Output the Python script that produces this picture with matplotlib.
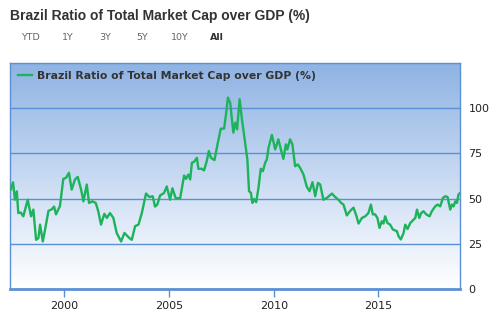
import numpy as np
import matplotlib
matplotlib.use("Agg")
import matplotlib.pyplot as plt
from matplotlib.colors import LinearSegmentedColormap

# decimal year of each reading, and the ratio (%)
years = [1997.44, 1997.55, 1997.64, 1997.73, 1997.80, 1997.92, 1998.04, 1998.25,
         1998.41, 1998.52, 1998.65, 1998.76, 1998.84, 1998.97, 1999.11, 1999.24,
         1999.40, 1999.51, 1999.60, 1999.79, 1999.95, 2000.08, 2000.22, 2000.35,
         2000.51, 2000.64, 2000.80, 2000.91, 2001.07, 2001.18, 2001.34, 2001.50,
         2001.62, 2001.75, 2001.91, 2002.03, 2002.18, 2002.34, 2002.50, 2002.71,
         2002.87, 2003.11, 2003.22, 2003.38, 2003.54, 2003.70, 2003.90, 2004.06,
         2004.22, 2004.33, 2004.44, 2004.57, 2004.76, 2004.89, 2005.05, 2005.16,
         2005.32, 2005.53, 2005.72, 2005.81, 2005.92, 2006.01, 2006.09, 2006.20,
         2006.33, 2006.40, 2006.56, 2006.67, 2006.80, 2006.90, 2007.00, 2007.17,
         2007.33, 2007.47, 2007.63, 2007.73, 2007.81, 2007.92, 2008.07, 2008.16,
         2008.25, 2008.37, 2008.48, 2008.63, 2008.74, 2008.82, 2008.91, 2008.98,
         2009.06, 2009.16, 2009.27, 2009.38, 2009.48, 2009.59, 2009.67, 2009.75,
         2009.91, 2010.07, 2010.22, 2010.34, 2010.46, 2010.58, 2010.65, 2010.78,
         2010.89, 2011.02, 2011.15, 2011.26, 2011.42, 2011.58, 2011.71, 2011.85,
         2011.98, 2012.11, 2012.22, 2012.37, 2012.54, 2012.78, 2012.93, 2013.09,
         2013.22, 2013.33, 2013.49, 2013.65, 2013.81, 2013.94, 2014.05, 2014.21,
         2014.37, 2014.52, 2014.64, 2014.73, 2014.84, 2014.95, 2015.05, 2015.16,
         2015.24, 2015.32, 2015.43, 2015.56, 2015.69, 2015.88, 2015.96, 2016.07,
         2016.20, 2016.28, 2016.39, 2016.52, 2016.65, 2016.76, 2016.84, 2016.95,
         2017.04, 2017.15, 2017.28, 2017.44, 2017.55, 2017.71, 2017.82, 2017.95,
         2018.08, 2018.19, 2018.30, 2018.43, 2018.51, 2018.59, 2018.67, 2018.75,
         2018.82, 2018.87]
ratio = [55.0, 59.0, 49.4, 54.0, 42.0, 42.3, 40.2, 49.4,
         40.2, 43.9, 27.2, 28.1, 35.6, 26.3, 34.8, 43.2,
         44.1, 45.6, 41.3, 45.9, 60.9, 61.5, 64.3, 55.0,
         60.6, 62.0, 55.0, 48.5, 57.8, 47.6, 48.5, 47.6,
         43.0, 35.6, 41.6, 39.3, 42.0, 39.3, 31.0, 26.3,
         31.0, 28.1, 27.2, 34.8, 35.6, 42.0, 52.8, 50.9,
         51.3, 45.6, 46.7, 51.7, 53.1, 56.7, 49.4, 55.7,
         50.2, 50.2, 62.8, 60.9, 63.3, 60.6, 69.8, 70.4,
         72.6, 66.5, 66.5, 65.6, 70.7, 76.3, 72.6, 71.3,
         80.9, 88.7, 88.7, 97.6, 105.9, 103.0, 86.5, 92.0,
         88.3, 105.0, 94.0, 80.9, 71.7, 54.1, 53.2, 47.6,
         49.8, 48.0, 55.9, 66.5, 65.2, 69.8, 71.7, 78.1,
         85.2, 77.2, 82.8, 77.2, 72.0, 80.0, 77.2, 82.8,
         80.0, 67.9, 68.9, 67.0, 63.3, 56.5, 54.1, 59.1,
         51.3, 58.7, 57.8, 49.4, 50.4, 52.8, 50.9, 49.4,
         47.6, 46.7, 40.7, 43.2, 45.0, 40.7, 36.2, 39.3,
         40.2, 42.0, 46.7, 41.3, 41.3, 39.3, 33.8, 37.5,
         36.2, 40.2, 36.5, 35.6, 32.9, 32.0, 29.2, 27.4,
         31.0, 35.6, 33.2, 36.5, 38.0, 39.3, 43.9, 39.3,
         42.0, 43.0, 41.3, 40.2, 43.0, 45.7, 46.7, 45.7,
         50.4, 51.3, 50.9, 43.9, 46.7, 45.7, 48.5, 47.6,
         52.2, 52.8]

x_ticks = [2000, 2005, 2010, 2015]
y_ticks = [0, 25, 50, 75, 100]
buttons = ["YTD", "1Y", "3Y", "5Y", "10Y", "All"]
title = "Brazil Ratio of Total Market Cap over GDP (%)"

blue = "#5b8fd6"
x0, x1 = 1997.42, 2018.90
y0, y1 = 0, 125

fig = plt.figure(figsize=(4.94, 3.26), dpi=100)
ax = fig.add_axes([0.0209, 0.1135, 0.9105, 0.6932])

# background gradient, light at the bottom, blue at the top
grad = LinearSegmentedColormap.from_list("bg", ["#ffffff", "#dbe7f7", "#b4cced", "#8fb3e3"])
ax.imshow(np.linspace(0, 1, 256).reshape(-1, 1)[::-1], cmap=grad, aspect="auto",
          extent=[x0, x1, y0, y1], zorder=0)

for v in y_ticks[1:]:
    ax.axhline(v, color=blue, lw=1.0, zorder=1)

ax.plot(years, ratio, color="#1db35a", lw=1.7, zorder=3,
        label=title)

ax.set_xlim(x0, x1)
ax.set_ylim(y0, y1)

for s in ["left", "top", "right"]:
    ax.spines[s].set_color(blue)
    ax.spines[s].set_linewidth(1.0)
ax.spines["bottom"].set_color(blue)
ax.spines["bottom"].set_linewidth(2.0)

ax.set_xticks(x_ticks)
ax.set_xticklabels([str(t) for t in x_ticks])
ax.tick_params(axis="x", length=6, width=1, color=blue, labelsize=8,
               labelcolor="#222222", pad=3)
ax.yaxis.tick_right()
ax.set_yticks(y_ticks)
ax.tick_params(axis="y", length=0, labelsize=8, labelcolor="#222222", pad=6)

leg = ax.legend(loc="upper left", frameon=False, handlelength=1.3,
                handletextpad=0.5, borderaxespad=0.3,
                prop={"weight": "bold", "size": 7.8, "family": "DejaVu Sans"})
for t in leg.get_texts():
    t.set_color("#333333")

fig.text(10 / 494, 1 - 16 / 326, title, fontsize=10, fontweight="bold",
         family="Liberation Sans", color="#333333", va="center", ha="left")

bx = [21, 62, 99, 136, 171, 210]
for b, x in zip(buttons, bx):
    fig.text(x / 494, 1 - 38 / 326, b, fontsize=6.8,
             fontweight="bold" if b == "All" else "normal",
             color="#333333" if b == "All" else "#666666",
             va="center", ha="left")

fig.savefig("out.png", dpi=100)
